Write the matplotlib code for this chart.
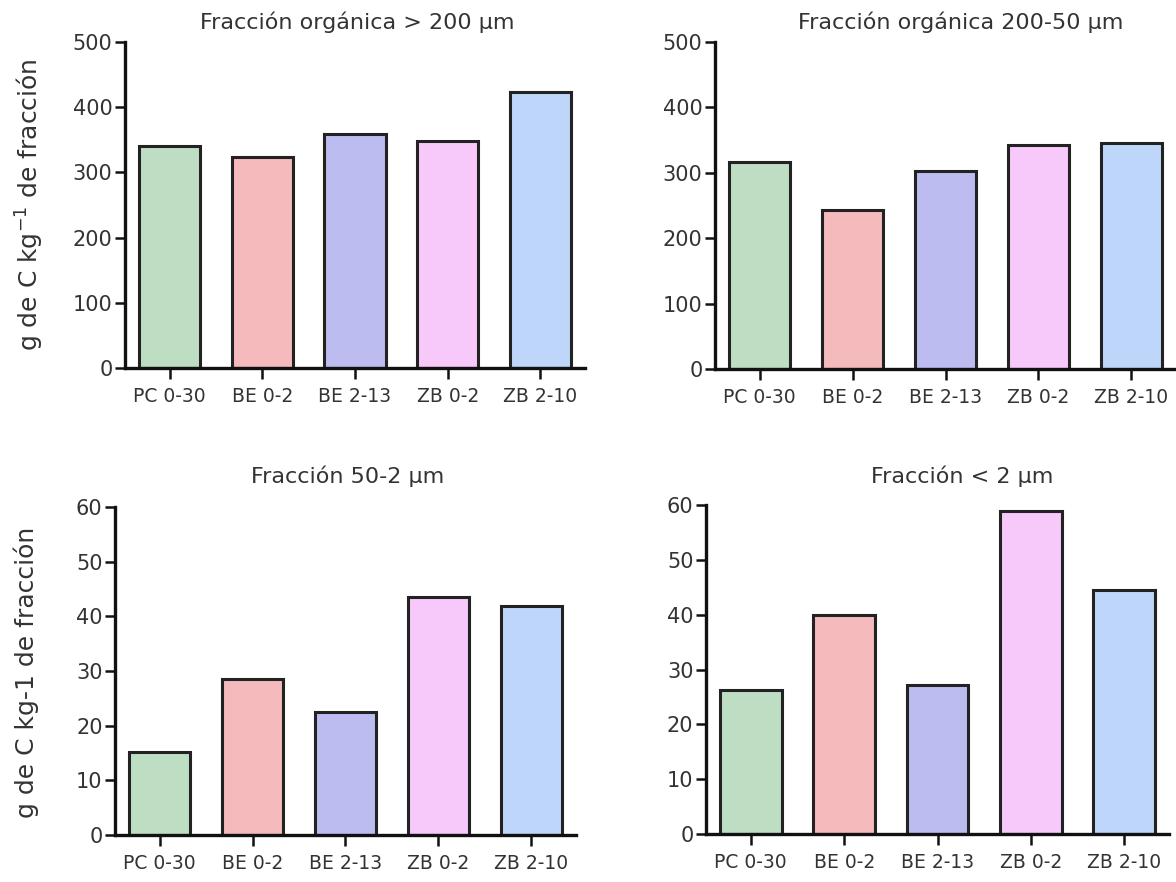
import matplotlib
matplotlib.use("Agg")
import matplotlib.pyplot as plt

categories = ["PC 0-30", "BE 0-2", "BE 2-13", "ZB 0-2", "ZB 2-10"]
colors = ["#bedec3", "#f4babc", "#bcbcf0", "#f7c8fa", "#bed6fa"]

org_gt200 = [340, 324, 359, 348, 423]
org_200_50 = [316, 243, 303, 343, 346]
frac_50_2 = [15.2, 28.5, 22.5, 43.5, 41.9]
frac_lt2 = [26.2, 39.9, 27.1, 58.9, 44.5]

titles = ["Fracción orgánica > 200 µm", "Fracción orgánica 200-50 µm",
          "Fracción 50-2 µm", "Fracción < 2 µm"]
ylabel_top = "g de C kg$^{-1}$ de fracción"
ylabel_bottom = "g de C kg-1 de fracción"

W, H = 1176, 882
plt.rcParams['font.family'] = ['DejaVu Sans']
fig = plt.figure(figsize=(W / 100, H / 100), dpi=100)

# (left, right, top, bottom) in pixels
boxes = [(125, 585, 42, 368), (715, 1176, 42, 369),
         (115, 576, 507, 835), (706, 1169, 505, 834)]
series = [org_gt200, org_200_50, frac_50_2, frac_lt2]
ymaxs = [500, 500, 60, 60]
ysteps = [100, 100, 10, 10]
title_pos = [(357, 22), (961, 22), (348, 476), (962, 476)]
txtc = "#333333"

for i, ((l, r, t, b), vals) in enumerate(zip(boxes, series)):
    ax = fig.add_axes([l / W, 1 - b / H, (r - l) / W, (b - t) / H])
    x = range(len(categories))
    ax.bar(x, vals, width=0.66, color=colors, edgecolor="#222222",
           linewidth=2.2, zorder=2)
    ax.set_xlim(-0.48, 4.48)
    ax.set_ylim(0, ymaxs[i])
    ax.set_yticks(range(0, ymaxs[i] + 1, ysteps[i]))
    ax.set_xticks(list(x))
    ax.set_xticklabels(categories)
    for s in ["top", "right"]:
        ax.spines[s].set_visible(False)
    for s in ["left", "bottom"]:
        ax.spines[s].set_linewidth(2.4)
        ax.spines[s].set_color("#111111")
        ax.spines[s].set_zorder(3)
    ax.tick_params(axis="y", direction="out", length=7, width=1.8,
                   labelsize=15, colors="#111111", labelcolor=txtc, pad=2)
    ax.tick_params(axis="x", direction="out", length=8, width=1.8,
                   labelsize=13.5, colors="#111111", labelcolor=txtc, pad=6)
    tx, ty = title_pos[i]
    fig.text(tx / W, 1 - ty / H, titles[i], ha="center", va="center",
             fontsize=16, color=txtc)
    ax.patch.set_alpha(0)

fig.text(30 / W, 1 - 205 / H, ylabel_top, rotation=90, ha="center",
         va="center", fontsize=18, color=txtc)
fig.text(26 / W, 1 - 672 / H, ylabel_bottom, rotation=90, ha="center",
         va="center", fontsize=18, color=txtc)

fig.savefig("out.png", dpi=100, facecolor="white")
